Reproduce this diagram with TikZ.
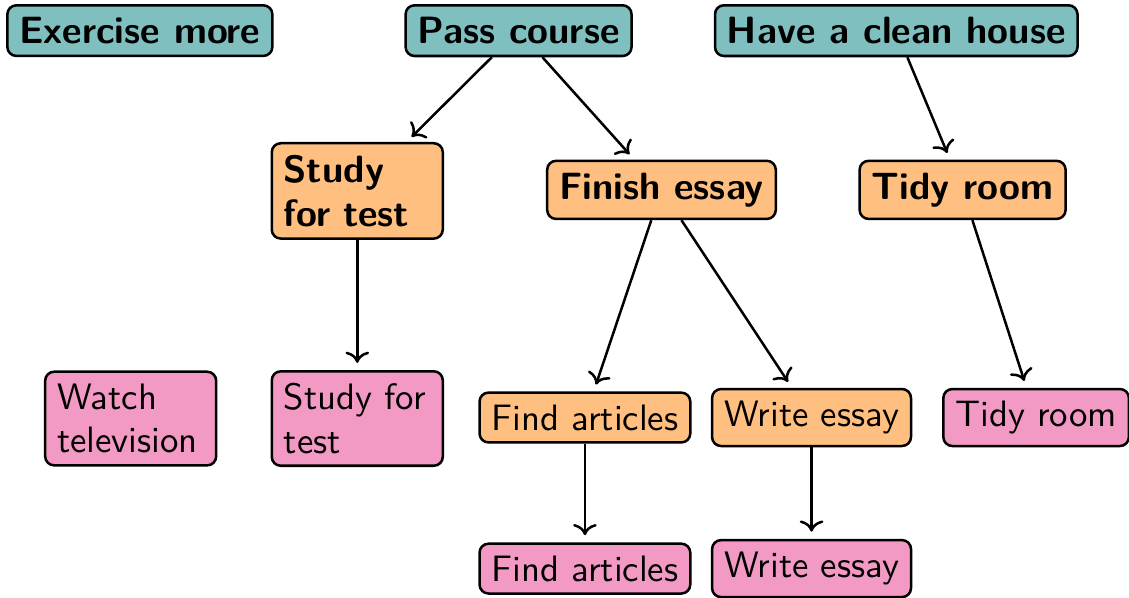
\documentclass[tikz,border=0pt]{standalone}
\usepackage{amsmath}
\usepackage{amssymb}
\usepackage{tikz}
\usetikzlibrary{positioning,arrows.meta}
\definecolor{taskpink}{RGB}{242,154,196}

\begin{document}
\begin{tikzpicture}[scale=1,
  box/.style={draw,line width=0.7pt,rounded corners=2.5pt,font=\fontsize{10.25}{12.2}\sffamily},
  goal/.style={box,fill=teal!50,font=\fontsize{10.6}{12.2}\sffamily\bfseries},
  sub/.style={box,fill=orange!50},
  act/.style={box,fill=taskpink},
  wide/.style={text width=41pt,align=left},
  link/.style={line width=0.7pt,->,shorten >=2pt}]
\useasboundingbox (0,0) rectangle (11.06,-5.849);
% Goals
\node[goal] (g1) at (1.37,-0.30) {Exercise more};
\node[goal] (g2) at (5.08,-0.30) {Pass course};
\node[goal] (g3) at (8.78,-0.30) {Have a clean house};

% Subgoals
\node[sub,wide,font=\fontsize{10.6}{12.2}\sffamily\bfseries] (m1) at (3.50,-1.87) {Study for test};
\node[sub,font=\fontsize{10.6}{12.2}\sffamily\bfseries] (m2) at (6.48,-1.86) {Finish essay};
\node[sub,font=\fontsize{10.6}{12.2}\sffamily\bfseries] (m3) at (9.43,-1.86) {Tidy room};

% Tasks
\node[act,wide] (a1) at (1.28,-4.10) {Watch television};
\node[act,wide] (a2) at (3.50,-4.10) {Study for test};
\node[sub] (m4) at (5.73,-4.09) {Find articles};
\node[sub] (m5) at (7.95,-4.09) {Write essay};
\node[act] (a3) at (10.15,-4.09) {Tidy room};
\node[act] (a4) at (5.73,-5.57) {Find articles};
\node[act] (a5) at (7.95,-5.57) {Write essay};

\draw[link] (g2) -- (m1);
\draw[link] (g2) -- (m2);
\draw[link] (g3) -- (m3);
\draw[link] (m1) -- (a2);
\draw[link] (m2) -- (m4);
\draw[link] (m2) -- (m5);
\draw[link] (m3) -- (a3);
\draw[link] (m4) -- (a4);
\draw[link] (m5) -- (a5);
\end{tikzpicture}
\end{document}
